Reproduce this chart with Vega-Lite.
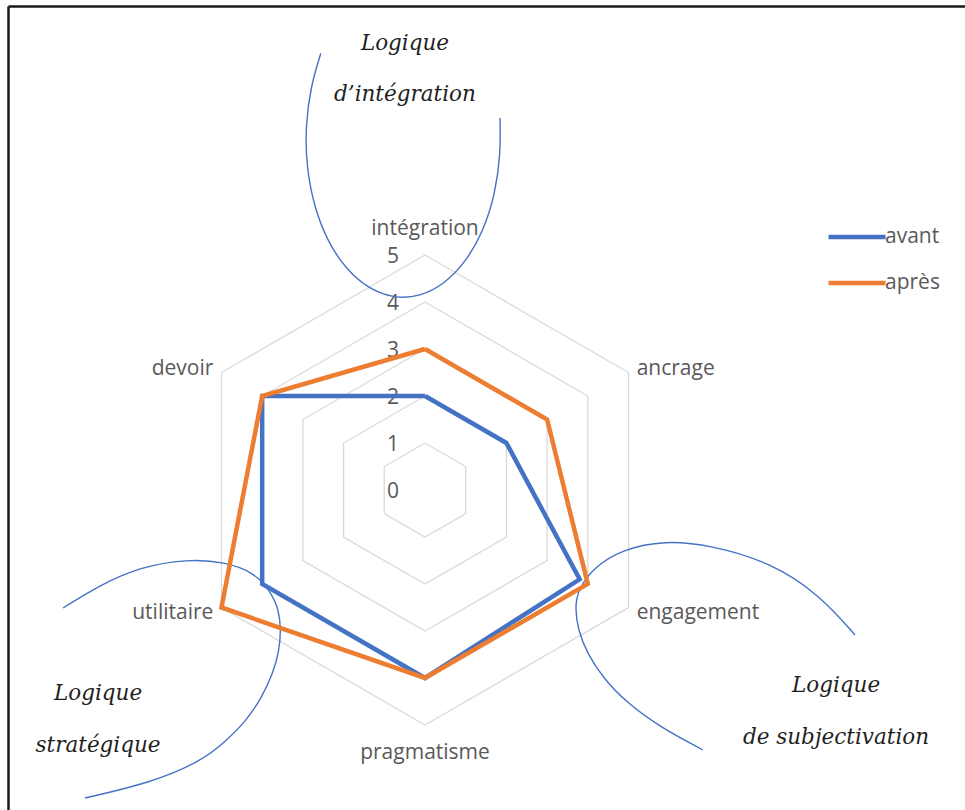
{
  "$schema": "https://vega.github.io/schema/vega-lite/v6.json",
  "width": 957,
  "height": 804,
  "autosize": {"type": "none"},
  "padding": {"left": 8, "top": 6, "right": 0, "bottom": 0},
  "background": "white",
  "datasets": {
    "series": [
      {"axe": "intégration", "k": 0, "serie": "avant", "valeur": 2},
      {"axe": "ancrage", "k": 1, "serie": "avant", "valeur": 2},
      {"axe": "engagement", "k": 2, "serie": "avant", "valeur": 3.8},
      {"axe": "pragmatisme", "k": 3, "serie": "avant", "valeur": 4},
      {"axe": "utilitaire", "k": 4, "serie": "avant", "valeur": 4},
      {"axe": "devoir", "k": 5, "serie": "avant", "valeur": 4},
      {"axe": "intégration", "k": 6, "serie": "avant", "valeur": 2},
      {"axe": "intégration", "k": 0, "serie": "après", "valeur": 3},
      {"axe": "ancrage", "k": 1, "serie": "après", "valeur": 3},
      {"axe": "engagement", "k": 2, "serie": "après", "valeur": 4},
      {"axe": "pragmatisme", "k": 3, "serie": "après", "valeur": 4},
      {"axe": "utilitaire", "k": 4, "serie": "après", "valeur": 5},
      {"axe": "devoir", "k": 5, "serie": "après", "valeur": 4},
      {"axe": "intégration", "k": 6, "serie": "après", "valeur": 3}
    ],
    "grille": [
      {"niveau": 1, "k": [0, 1, 2, 3, 4, 5, 6]},
      {"niveau": 2, "k": [0, 1, 2, 3, 4, 5, 6]},
      {"niveau": 3, "k": [0, 1, 2, 3, 4, 5, 6]},
      {"niveau": 4, "k": [0, 1, 2, 3, 4, 5, 6]},
      {"niveau": 5, "k": [0, 1, 2, 3, 4, 5, 6]}
    ],
    "axes": [
      {"axe": "intégration", "k": 0},
      {"axe": "ancrage", "k": 1},
      {"axe": "engagement", "k": 2},
      {"axe": "pragmatisme", "k": 3},
      {"axe": "utilitaire", "k": 4},
      {"axe": "devoir", "k": 5}
    ],
    "graduations": [
      {"t": 0}, {"t": 1}, {"t": 2}, {"t": 3}, {"t": 4}, {"t": 5}
    ],
    "arcs": [
      {"arc": "intégration", "i": 0, "x": -2.217, "y": 9.289},
      {"arc": "intégration", "i": 1, "x": -2.428, "y": 8.604},
      {"arc": "intégration", "i": 2, "x": -2.545, "y": 7.743},
      {"arc": "intégration", "i": 3, "x": -2.521, "y": 6.86},
      {"arc": "intégration", "i": 4, "x": -2.357, "y": 6.017},
      {"arc": "intégration", "i": 5, "x": -2.066, "y": 5.272},
      {"arc": "intégration", "i": 6, "x": -1.664, "y": 4.674},
      {"arc": "intégration", "i": 7, "x": -1.181, "y": 4.268},
      {"arc": "intégration", "i": 8, "x": -0.649, "y": 4.077},
      {"arc": "intégration", "i": 9, "x": -0.106, "y": 4.115},
      {"arc": "intégration", "i": 10, "x": 0.413, "y": 4.381},
      {"arc": "intégration", "i": 11, "x": 0.872, "y": 4.855},
      {"arc": "intégration", "i": 12, "x": 1.24, "y": 5.506},
      {"arc": "intégration", "i": 13, "x": 1.491, "y": 6.289},
      {"arc": "intégration", "i": 14, "x": 1.609, "y": 7.151},
      {"arc": "intégration", "i": 15, "x": 1.596, "y": 7.917},
      {"arc": "subjectivation", "i": 0, "x": 9.149, "y": -3.085},
      {"arc": "subjectivation", "i": 1, "x": 8.404, "y": -2.234},
      {"arc": "subjectivation", "i": 2, "x": 7.34, "y": -1.532},
      {"arc": "subjectivation", "i": 3, "x": 6.064, "y": -1.17},
      {"arc": "subjectivation", "i": 4, "x": 5.1, "y": -1.075},
      {"arc": "subjectivation", "i": 5, "x": 4.2, "y": -1.26},
      {"arc": "subjectivation", "i": 6, "x": 3.574, "y": -1.66},
      {"arc": "subjectivation", "i": 7, "x": 3.255, "y": -2.128},
      {"arc": "subjectivation", "i": 8, "x": 3.191, "y": -2.489},
      {"arc": "subjectivation", "i": 9, "x": 3.255, "y": -2.979},
      {"arc": "subjectivation", "i": 10, "x": 3.447, "y": -3.468},
      {"arc": "subjectivation", "i": 11, "x": 3.787, "y": -4.0},
      {"arc": "subjectivation", "i": 12, "x": 4.298, "y": -4.532},
      {"arc": "subjectivation", "i": 13, "x": 5.0, "y": -5.043},
      {"arc": "subjectivation", "i": 14, "x": 5.915, "y": -5.532},
      {"arc": "stratégique", "i": 0, "x": -7.702, "y": -2.511},
      {"arc": "stratégique", "i": 1, "x": -6.915, "y": -2.021},
      {"arc": "stratégique", "i": 2, "x": -6.064, "y": -1.638},
      {"arc": "stratégique", "i": 3, "x": -5.064, "y": -1.468},
      {"arc": "stratégique", "i": 4, "x": -4.255, "y": -1.532},
      {"arc": "stratégique", "i": 5, "x": -3.66, "y": -1.745},
      {"arc": "stratégique", "i": 6, "x": -3.298, "y": -2.128},
      {"arc": "stratégique", "i": 7, "x": -3.106, "y": -2.553},
      {"arc": "stratégique", "i": 8, "x": -3.064, "y": -2.979},
      {"arc": "stratégique", "i": 9, "x": -3.106, "y": -3.447},
      {"arc": "stratégique", "i": 10, "x": -3.234, "y": -3.894},
      {"arc": "stratégique", "i": 11, "x": -3.468, "y": -4.404},
      {"arc": "stratégique", "i": 12, "x": -3.787, "y": -4.894},
      {"arc": "stratégique", "i": 13, "x": -4.255, "y": -5.362},
      {"arc": "stratégique", "i": 14, "x": -4.787, "y": -5.787},
      {"arc": "stratégique", "i": 15, "x": -5.851, "y": -6.234},
      {"arc": "stratégique", "i": 16, "x": -7.234, "y": -6.553}
    ],
    "logiques": [
      {"texte": "Logique", "x": -0.426, "y": 9.489},
      {"texte": "d’intégration", "x": -0.426, "y": 8.404},
      {"texte": "Logique", "x": 8.745, "y": -4.17},
      {"texte": "de subjectivation", "x": 8.745, "y": -5.277},
      {"texte": "Logique", "x": -6.957, "y": -4.34},
      {"texte": "stratégique", "x": -6.957, "y": -5.447}
    ]
  },
  "encoding": {
    "x": {
      "field": "x",
      "type": "quantitative",
      "scale": {"domain": [-8.8723, 11.4894], "nice": false, "zero": false},
      "axis": {"orient": "top", "title": null, "labels": false, "ticks": false, "grid": false, "domainColor": "#1a1a1a", "domainWidth": 2.5}
    },
    "y": {
      "field": "y",
      "type": "quantitative",
      "scale": {"domain": [-6.8085, 10.2979], "nice": false, "zero": false},
      "axis": {"orient": "left", "title": null, "labels": false, "ticks": false, "grid": false, "domainColor": "#1a1a1a", "domainWidth": 2.5}
    }
  },
  "layer": [
    {
      "data": {"name": "grille"},
      "transform": [
        {"flatten": ["k"]},
        {"calculate": "datum.niveau * sin(datum.k * PI / 3)", "as": "x"},
        {"calculate": "datum.niveau * cos(datum.k * PI / 3)", "as": "y"}
      ],
      "mark": {"type": "line", "color": "#d9d9d9", "strokeWidth": 1.3},
      "encoding": {
        "detail": {"field": "niveau", "type": "nominal"},
        "order": {"field": "k", "type": "quantitative"}
      }
    },
    {
      "data": {"name": "graduations"},
      "transform": [
        {"calculate": "-0.553", "as": "x"},
        {"calculate": "datum.t", "as": "y"},
        {"calculate": "'' + datum.t", "as": "lib"}
      ],
      "mark": {"type": "text", "align": "right", "baseline": "middle", "dy": 2, "font": "Open Sans", "fontSize": 21, "color": "#595959"},
      "encoding": {
        "text": {"field": "lib", "type": "nominal"}
      }
    },
    {
      "data": {"name": "axes"},
      "transform": [
        {"calculate": "(datum.k == 0 || datum.k == 3) ? 5.57 : 5.2", "as": "r"},
        {"calculate": "datum.r * sin(datum.k * PI / 3)", "as": "x"},
        {"calculate": "datum.r * cos(datum.k * PI / 3)", "as": "y"}
      ],
      "mark": {
        "type": "text",
        "align": {"expr": "datum.x > 0.1 ? 'left' : (datum.x < -0.1 ? 'right' : 'center')"},
        "baseline": "middle",
        "dy": 1,
        "font": "Open Sans",
        "fontSize": 21,
        "color": "#595959"
      },
      "encoding": {
        "text": {"field": "axe", "type": "nominal"}
      }
    },
    {
      "data": {"name": "arcs"},
      "mark": {"type": "line", "color": "#4472C4", "strokeWidth": 1.4, "interpolate": "basis"},
      "encoding": {
        "detail": {"field": "arc", "type": "nominal"},
        "order": {"field": "i", "type": "quantitative"}
      }
    },
    {
      "data": {"name": "logiques"},
      "mark": {"type": "text", "align": "center", "baseline": "middle", "font": "DejaVu Serif", "fontStyle": "italic", "fontSize": 21.5, "color": "#1f1f1f"},
      "encoding": {
        "text": {"field": "texte", "type": "nominal"}
      }
    },
    {
      "data": {"name": "series"},
      "transform": [
        {"calculate": "datum.valeur * sin(datum.k * PI / 3)", "as": "x"},
        {"calculate": "datum.valeur * cos(datum.k * PI / 3)", "as": "y"}
      ],
      "mark": {"type": "line", "strokeWidth": 4.5, "strokeJoin": "miter"},
      "encoding": {
        "order": {"field": "k", "type": "quantitative"},
        "color": {
          "field": "serie",
          "type": "nominal",
          "sort": ["avant", "après"],
          "scale": {"domain": ["avant", "après"], "range": ["#4472C4", "#ED7D31"]},
          "legend": {
            "title": null,
            "orient": "none",
            "legendX": 818,
            "legendY": 200,
            "padding": 0,
            "symbolType": "stroke",
            "symbolSize": 3249,
            "symbolStrokeWidth": 4.5,
            "rowPadding": 5,
            "labelOffset": -3,
            "labelFont": "Open Sans",
            "labelFontSize": 21,
            "labelColor": "#595959"
          }
        }
      }
    }
  ],
  "config": {
    "view": {"stroke": null}
  }
}
